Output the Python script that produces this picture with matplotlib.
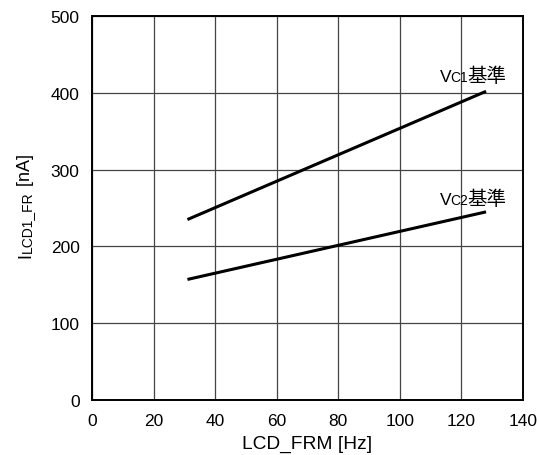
import matplotlib.pyplot as plt

plt.rcParams['font.family'] = ['Liberation Sans', 'Noto Sans CJK JP', 'DejaVu Sans']

# data
freq = [31, 128]
vc1 = [235, 402]
vc2 = [157, 245]
xticks = [0, 20, 40, 60, 80, 100, 120, 140]
yticks = [0, 100, 200, 300, 400, 500]

fig = plt.figure(figsize=(5.39, 4.56), dpi=100)
ax = fig.add_axes([0.1707, 0.1206, 0.7996, 0.842])

ax.plot(freq, vc1, color='black', lw=2.2, solid_capstyle='butt')
ax.plot(freq, vc2, color='black', lw=2.2, solid_capstyle='butt')

ax.set_xlim(0, 140)
ax.set_ylim(0, 500)
ax.set_xticks(xticks)
ax.set_yticks(yticks)
ax.tick_params(length=0, labelsize=12.5, colors='black')
ax.tick_params(axis='y', pad=9)
ax.tick_params(axis='x', pad=9)
ax.grid(color='#444444', lw=0.9)
for s in ax.spines.values():
    s.set_linewidth(1.4)

ax.set_xlabel('LCD_FRM [Hz]', fontsize=13.8, labelpad=5)

fig.canvas.draw()
r = fig.canvas.get_renderer()


def sub_label(x, y, parts):
    # parts: (text, size) pieces sharing one baseline
    dx = 0
    for s, size in parts:
        t = ax.annotate(s, xy=(x, y), xytext=(dx, 0), textcoords='offset pixels',
                        fontsize=size, va='baseline')
        dx += t.get_window_extent(r).width - 1


sub_label(113, 415, [('V', 12.5), ('C1', 10), ('基準', 14)])
sub_label(113, 255, [('V', 12.5), ('C2', 10), ('基準', 14)])

# y label: I + small LCD1_FR + [nA], stacked along the rotated baseline
y1 = fig.text(0.063, 0.44, 'I', rotation=90, fontsize=13, ha='right', va='bottom')
y2 = ax.annotate('LCD1_FR', xy=(1, 1), xycoords=y1, rotation=90, fontsize=10,
                 ha='right', va='bottom')
y3 = ax.annotate(' [nA]', xy=(1, 1), xycoords=y2, rotation=90, fontsize=13,
                 ha='right', va='bottom')

# center the y label stack against the axes
fig.canvas.draw()
b1 = y1.get_window_extent(r)
b3 = y3.get_window_extent(r)
mid = (b1.y0 + b3.y1) / 2
target = (1 - 206 / 456) * fig.bbox.height
y1.set_position((0.063, 0.44 + (target - mid) / fig.bbox.height))

fig.savefig('out.png', dpi=100)
